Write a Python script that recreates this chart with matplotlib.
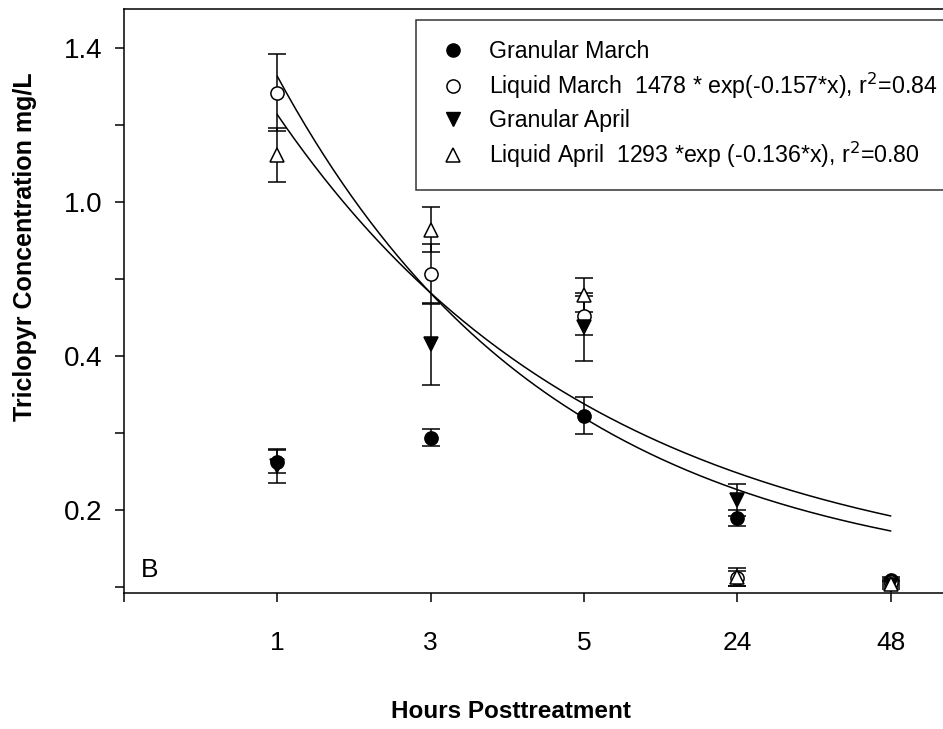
"""
Triclopyr concentration against hours posttreatment (panel B).
"""
# Library import
import numpy as np
import matplotlib
matplotlib.use("Agg")
import matplotlib.pyplot as plt
from matplotlib.lines import Line2D

# Data (x as category positions 1..5)
hours_labels = ["1", "3", "5", "24", "48"]
positions = [1, 2, 3, 4, 5]

granular_march = [0.325, 0.387, 0.444, 0.179, 0.018]
granular_march_err = [0.030, 0.022, 0.048, 0.020, 0.008]
liquid_march = [1.283, 0.813, 0.704, 0.022, 0.012]
liquid_march_err = [0.100, 0.077, 0.050, 0.020, 0.008]
granular_april = [0.314, 0.630, 0.675, 0.226, 0.004]
granular_april_err = [0.045, 0.105, 0.088, 0.042, 0.010]
liquid_april = [1.122, 0.927, 0.758, 0.026, 0.008]
liquid_april_err = [0.070, 0.058, 0.044, 0.023, 0.008]

# Exponential fit curves as drawn (amplitude, rate per category step)
fit_march = [2.304, 0.553]
fit_april = [1.969, 0.474]

# y tick labels as printed on the original axis
y_ticks = [0.2, 0.6, 1.0, 1.4]
y_tick_labels = ["0.2", "0.4", "1.0", "1.4"]
y_minor = [0.0, 0.4, 0.8, 1.2]

# Style
plt.rcParams["font.family"] = ["Liberation Sans", "DejaVu Sans"]
lw = 1.1

fig = plt.figure(figsize=(9.43, 7.29), dpi=100)
ax = fig.add_axes([124 / 943, 1 - 593 / 729, 1 - 124 / 943, (593 - 9) / 729])

# Fit curves
xs = np.linspace(1, 5, 200)
ax.plot(xs, fit_march[0] * np.exp(-fit_march[1] * xs), color="black", lw=lw)
ax.plot(xs, fit_april[0] * np.exp(-fit_april[1] * xs), color="black", lw=lw)

# Data series with error bars
series = [
    (granular_march, granular_march_err, "o", "black"),
    (liquid_march, liquid_march_err, "o", "white"),
    (granular_april, granular_april_err, "v", "black"),
    (liquid_april, liquid_april_err, "^", "white"),
]
for vals, errs, mk, face in series:
    ax.errorbar(
        positions, vals, yerr=errs, fmt=mk, ms=9.5, mfc=face, mec="black",
        mew=lw, ecolor="black", elinewidth=lw, capsize=6.5, capthick=lw,
        clip_on=False, zorder=3,
    )

# Axis limits and ticks
ax.set_xlim(0, 820 / 153.5)
ax.set_ylim(-0.016, 1.5)
ax.set_xticks([0] + positions)
ax.set_xticklabels([""] + hours_labels, fontsize=19)
ax.set_yticks(y_ticks)
ax.set_yticklabels(y_tick_labels, fontsize=20)
ax.set_yticks(y_minor, minor=True)
ax.tick_params(axis="both", which="both", direction="out", length=6.5,
               width=lw, color="black")
ax.tick_params(axis="x", pad=21)
ax.tick_params(axis="y", pad=9)

for side in ["left", "bottom", "top"]:
    ax.spines[side].set_linewidth(lw)
ax.spines["right"].set_visible(False)

# Panel letter
ax.text(0.02, 0.04, "B", transform=ax.transAxes, fontsize=19,
        ha="left", va="center")

# Legend
handles = [
    Line2D([], [], ls="none", marker="o", ms=9.5, mfc="black", mec="black"),
    Line2D([], [], ls="none", marker="o", ms=9.5, mfc="white", mec="black",
           mew=lw),
    Line2D([], [], ls="none", marker="v", ms=9.5, mfc="black", mec="black"),
    Line2D([], [], ls="none", marker="^", ms=9.5, mfc="white", mec="black",
           mew=lw),
]
labels = [
    "Granular March",
    "Liquid March  1478 * exp(-0.157*x), r$^2$=0.84",
    "Granular April",
    "Liquid April  1293 *exp (-0.136*x), r$^2$=0.80",
]
leg = ax.legend(
    handles, labels, loc="upper left", bbox_to_anchor=(0.356, 0.981),
    fontsize=16.7, frameon=True, fancybox=False, edgecolor="black",
    handlelength=1.5, handletextpad=0.82, borderpad=0.85, labelspacing=0.34,
    borderaxespad=0,
)
leg.get_frame().set_linewidth(lw)

# Axis titles
fig.text(25 / 943, 1 - 247 / 729, "Triclopyr Concentration mg/L",
         rotation=90, ha="center", va="center", fontsize=18,
         fontweight="bold")
fig.text(511 / 943, 1 - 712 / 729, "Hours Posttreatment", ha="center",
         va="center", fontsize=17.5, fontweight="bold")

fig.savefig("out.png", dpi=100)
